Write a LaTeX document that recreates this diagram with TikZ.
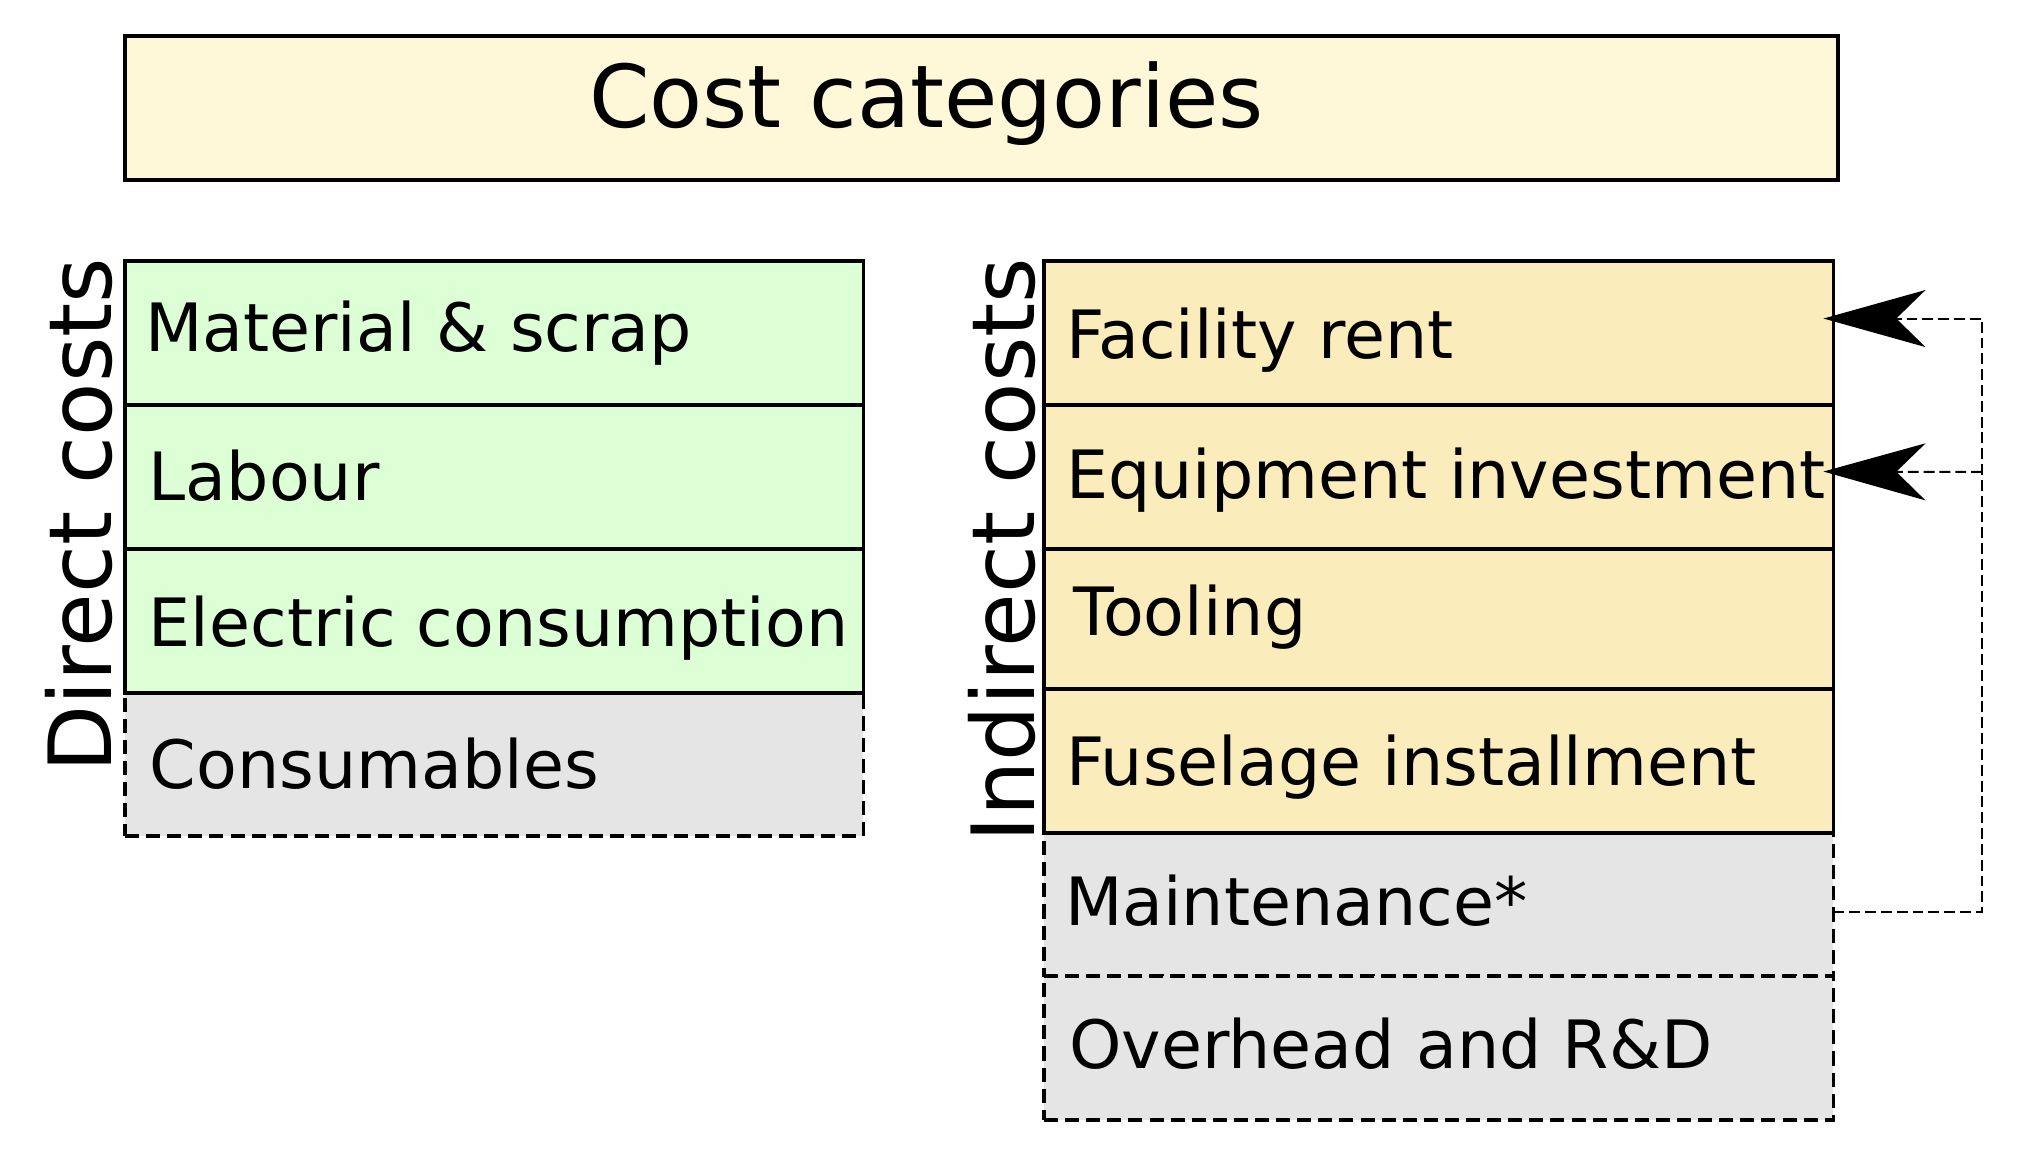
\documentclass[tikz,border=0pt]{standalone}
\usepackage{fontspec}
\setmainfont{DejaVu Sans}
\usetikzlibrary{arrows.meta,calc}
\definecolor{titlefill}{RGB}{254,248,216}
\definecolor{directfill}{RGB}{221,255,214}
\definecolor{indirectfill}{RGB}{251,236,187}
\definecolor{optfill}{RGB}{229,229,229}
% #1 left offset, #2 baseline below centre, #3 text
\newcommand\dcell[3]{\raisebox{-#2}[0pt][0pt]{\makebox[7.38cm][l]{\hspace*{#1}#3}}}
\newcommand\icell[3]{\raisebox{-#2}[0pt][0pt]{\makebox[7.89cm][l]{\hspace*{#1}#3}}}
\begin{document}
\begin{tikzpicture}[x=0.01cm,y=-0.01cm,
  cellbox/.style={draw=black, line width=0.95pt, outer sep=0pt, anchor=north west,
    inner xsep=0pt, inner ysep=0pt, font=\fontsize{18.95}{22}\selectfont},
  directbox/.style={cellbox, fill=directfill},
  indirectbox/.style={cellbox, fill=indirectfill},
  optbox/.style={cellbox, fill=optfill, dash pattern=on 4pt off 2pt},
  biglabel/.style={font=\fontsize{24.8}{28}\selectfont, inner sep=0pt},
  conn/.style={line width=0.57pt, dash pattern=on 3.1pt off 1.4pt},
  tip/.style={-{Stealth[length=29pt,width=16.2pt,inset=8.3pt]}}]
\useasboundingbox (0,0) rectangle (2026,1164);

% title
\node[draw=black, line width=0.95pt, fill=titlefill, outer sep=0pt, anchor=north west,
  minimum width=17.12cm, minimum height=1.44cm, inner sep=0pt] (title) at (125,36) {};
\node[inner sep=0pt, font=\fontsize{24.65}{28}\selectfont, anchor=base west] (titletext) at (588.5,128) {Cost categories};

% direct costs
\node[optbox, minimum height=1.43cm] (cons) at (125,693) {\dcell{7.1pt}{6.8pt}{Consumables}};
\node[directbox, minimum height=1.44cm] (mat) at (125,261) {\dcell{5.7pt}{5.3pt}{Material \& scrap}};
\node[directbox, minimum height=1.44cm] (lab) at (125,405) {\dcell{6.75pt}{6.55pt}{Labour}};
\node[directbox, minimum height=1.44cm] (ele) at (125,549) {\dcell{6.75pt}{7.1pt}{Electric consumption}};
\node[biglabel, rotate=90, anchor=base east] (dlabel) at (111.5,257) {Direct costs};

% indirect costs
\node[optbox, minimum height=1.43cm] (mnt) at (1044,833) {\icell{6.0pt}{5.85pt}{Maintenance*}};
\node[optbox, minimum height=1.44cm] (ovh) at (1044,976) {\icell{7.25pt}{5.8pt}{Overhead and R\&D}};
\node[indirectbox, minimum height=1.44cm] (fac) at (1044,261) {\icell{6.3pt}{7.2pt}{Facility rent}};
\node[indirectbox, minimum height=1.44cm] (equ) at (1044,405) {\icell{6.3pt}{6.05pt}{Equipment investment}};
\node[indirectbox, minimum height=1.40cm] (tool) at (1044,549) {\icell{8.45pt}{4.55pt}{Tooling}};
\node[indirectbox, minimum height=1.44cm] (fus) at (1044,689) {\icell{6.3pt}{6.85pt}{Fuselage installment}};
\node[biglabel, rotate=90, anchor=base east] (ilabel) at (1034,257) {Indirect costs};

% connectors
\coordinate (junc) at (1982,472);
\draw[conn, tip] ($(mnt.east)+(0,7)$) -- ++(149,0) |- ($(fac.east)+(-10,-14.5)$);
\draw[conn, tip] (junc) -- ($(equ.east)+(-10,-5.5)$);
\end{tikzpicture}
\end{document}
